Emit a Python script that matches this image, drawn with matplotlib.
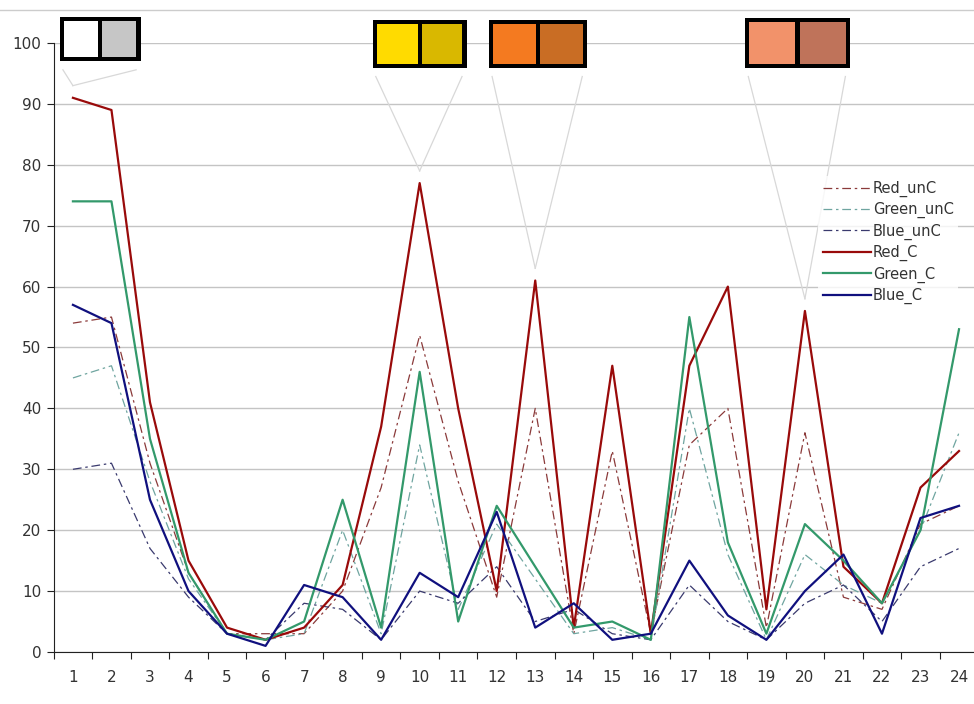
import matplotlib
matplotlib.use("Agg")
import matplotlib.pyplot as plt
from matplotlib.patches import Rectangle
from matplotlib.lines import Line2D
import numpy as np

# categories 1..24
categories = list(range(1, 25))

red_unc = [54, 55, 31, 13, 3, 3, 3, 10, 27, 52, 28, 9, 40, 3, 33, 3, 34, 40, 4, 36, 9, 7, 21, 24]
green_unc = [45, 47, 28, 12, 3, 2, 3, 20, 3, 34, 7, 21, 12, 3, 4, 2, 40, 16, 2, 16, 11, 8, 20, 36]
blue_unc = [30, 31, 17, 9, 3, 2, 8, 7, 2, 10, 8, 14, 5, 7, 3, 2, 11, 5, 2, 8, 11, 5, 14, 17]
red_c = [91, 89, 41, 15, 4, 2, 4, 11, 37, 77, 40, 10, 61, 4, 47, 3, 47, 60, 7, 56, 14, 8, 27, 33]
green_c = [74, 74, 35, 13, 3, 2, 5, 25, 4, 46, 5, 24, 14, 4, 5, 2, 55, 18, 3, 21, 15, 8, 20, 53]
blue_c = [57, 54, 25, 10, 3, 1, 11, 9, 2, 13, 9, 23, 4, 8, 2, 3, 15, 6, 2, 10, 16, 3, 22, 24]

# colour swatches pointing at selected categories
swatch_cats = [1, 10, 13, 20]
swatch_colors = [("#ffffff", "#c6c6c6"), ("#ffdb00", "#d9b800"),
                 ("#f47a20", "#c96d24"), ("#f2926a", "#bf735a")]

fig = plt.figure(figsize=(9.74, 7.04), dpi=100)
ax = fig.add_axes([0.0551, 0.0739, 0.9493, 0.865])

x = np.array(categories)
dash = (0, (7, 3, 2, 3))
ax.plot(x, red_unc, color="#8b3a3a", lw=0.9, ls=dash, label="Red_unC")
ax.plot(x, green_unc, color="#6fa5a0", lw=0.9, ls=dash, label="Green_unC")
ax.plot(x, blue_unc, color="#3a3a6e", lw=0.9, ls=dash, label="Blue_unC")
ax.plot(x, red_c, color="#990a0a", lw=1.6, label="Red_C")
ax.plot(x, green_c, color="#33996b", lw=1.6, label="Green_C")
ax.plot(x, blue_c, color="#10107e", lw=1.6, label="Blue_C")

ax.set_xlim(0.5, 24.5)
ax.set_ylim(0, 100)
ax.set_yticks(np.arange(0, 101, 10))
ax.yaxis.grid(True, color="#c4c4c4", lw=1)
ax.set_axisbelow(True)

# tick marks between categories, labels at categories
ax.set_xticks(np.arange(0.5, 25, 1))
ax.set_xticklabels([])
ax.set_xticks(x, minor=True)
ax.set_xticklabels([str(c) for c in categories], minor=True)
ax.tick_params(axis="x", which="major", length=5, direction="out", color="#222222")
ax.tick_params(axis="x", which="minor", length=0, pad=13, labelsize=11, labelcolor="#333333")
ax.tick_params(axis="y", length=5, direction="out", pad=4, labelsize=11,
               labelcolor="#333333", color="#222222")

for s in ["top", "right"]:
    ax.spines[s].set_visible(False)
ax.spines["left"].set_color("#222222")
ax.spines["bottom"].set_color("#222222")

# swatches with callout lines
half_w = [1.05, 1.22, 1.27, 1.36]
offsets = [0.71, 0.0, 0.07, -0.19]
y_ranges = [(97.0, 104.3), (95.9, 103.8), (95.9, 103.8), (95.9, 104.1)]
for cat, (c1, c2), hw, off, (y0, y1) in zip(swatch_cats, swatch_colors, half_w,
                                            offsets, y_ranges):
    cx = cat + off
    apex = (cat, red_c[cat - 1] + 2)
    for sx in (cx - hw + 0.08, cx + hw - 0.12):
        ax.add_line(Line2D([sx, apex[0]], [y0 - 1.4, apex[1]], color="#d8d8d8",
                           lw=0.9, clip_on=False, zorder=1))
    ax.add_patch(Rectangle((cx - hw, y0), 2 * hw, y1 - y0, facecolor="black",
                           clip_on=False, zorder=5))
    bx, by = 0.11, 0.7
    inner_w = (2 * hw - 3 * bx) / 2
    ax.add_patch(Rectangle((cx - hw + bx, y0 + by), inner_w, y1 - y0 - 2 * by,
                           facecolor=c1, clip_on=False, zorder=6))
    ax.add_patch(Rectangle((cx - hw + 2 * bx + inner_w, y0 + by), inner_w,
                           y1 - y0 - 2 * by, facecolor=c2, clip_on=False, zorder=6))

leg = ax.legend(loc="upper left", bbox_to_anchor=(811 / 974, 1 - 169 / 704),
                bbox_transform=fig.transFigure, frameon=True, fontsize=10.5,
                handlelength=3.3, handletextpad=0.15, labelspacing=0.36,
                borderpad=0.3, fancybox=False)
leg.get_frame().set_facecolor("white")
leg.get_frame().set_edgecolor("none")
for t in leg.get_texts():
    t.set_color("#333333")

# outer chart border line at the top
fig.add_artist(Line2D([0, 1], [1 - 10 / 704, 1 - 10 / 704], color="#cccccc", lw=1))

fig.savefig("out.png", dpi=100)
